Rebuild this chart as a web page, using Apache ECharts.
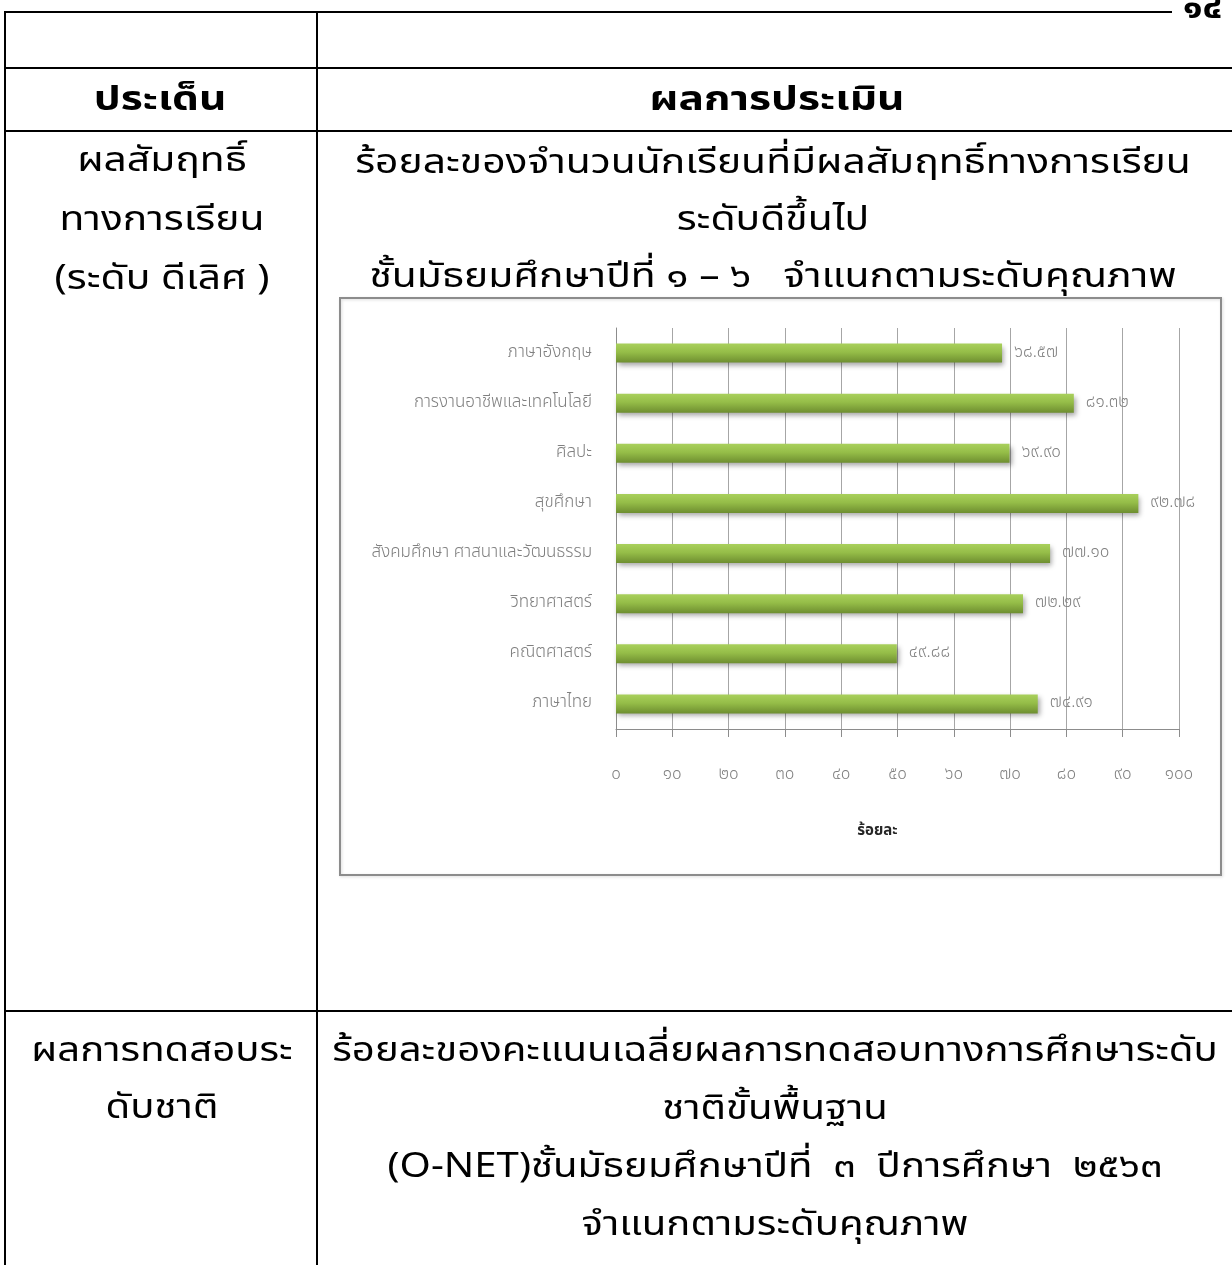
<!DOCTYPE html>
<html>
<head>
<meta charset="utf-8">
<script src="https://cdn.jsdelivr.net/npm/echarts@6/dist/echarts.min.js"></script>
<style>
html,body{margin:0;padding:0;background:#fff;}
#c{width:1232px;height:1265px;}
</style>
</head>
<body>
<div id="c"></div>
<script>
// ---- data ----
const categories = ['ภาษาอังกฤษ','การงานอาชีพและเทคโนโลยี','ศิลปะ','สุขศึกษา','สังคมศึกษา ศาสนาและวัฒนธรรม','วิทยาศาสตร์','คณิตศาสตร์','ภาษาไทย'];
const values = [68.57, 81.32, 69.90, 92.78, 77.10, 72.29, 49.88, 74.91];
const tickLabels = ['๐','๑๐','๒๐','๓๐','๔๐','๕๐','๖๐','๗๐','๘๐','๙๐','๑๐๐'];
const axisName = 'ร้อยละ';

const headLeft = 'ประเด็น';
const headRight = 'ผลการประเมิน';
const row1Left = ['ผลสัมฤทธิ์','ทางการเรียน','(ระดับ ดีเลิศ )'];
const row1Right = ['ร้อยละของจำนวนนักเรียนที่มีผลสัมฤทธิ์ทางการเรียน','ระดับดีขึ้นไป','ชั้นมัธยมศึกษาปีที่ ๑ – ๖   จำแนกตามระดับคุณภาพ'];
const row2Left = ['ผลการทดสอบระ','ดับชาติ'];
const row2Right = ['ร้อยละของคะแนนเฉลี่ยผลการทดสอบทางการศึกษาระดับ','ชาติขั้นพื้นฐาน','(O-NET)ชั้นมัธยมศึกษาปีที่  ๓  ปีการศึกษา  ๒๕๖๓','จำแนกตามระดับคุณภาพ'];
const pageNo = '๑๔';

const THAI_DIGITS = '๐๑๒๓๔๕๖๗๘๙';
function toThai(s){ return String(s).replace(/[0-9]/g, d => THAI_DIGITS[+d]); }

const FONT = '"Noto Sans Thai","Noto Sans Thai Looped","Tahoma","Loma","Garuda","Sarabun","Noto Sans",sans-serif';

const chart = echarts.init(document.getElementById('c'), null, {renderer:'canvas'});

function line(x1,y1,x2,y2,w,c){
  return {type:'line', shape:{x1,y1,x2,y2}, style:{stroke:c||'#000', lineWidth:w||2}, silent:true, z:10};
}
function text(t,x,y,size,weight,align,sx){
  return {type:'text', x, y, scaleX:sx||1, style:{text:t, fontSize:size, fontWeight:weight||'normal', fontFamily:FONT, fill:'#000', align:align||'center', verticalAlign:'middle'}, silent:true, z:10};
}

const graphics = [
  // table lines
  line(4,12,1172,12),
  line(5,12,5,1265),
  line(317,12,317,1265),
  line(4,68,1232,68),
  line(4,131,1232,131),
  line(4,1011,1232,1011),
  // chart box
  {type:'rect', shape:{x:340,y:298,width:881,height:577}, style:{fill:'none', stroke:'#8c8c8c', lineWidth:2, shadowColor:'rgba(0,0,0,0.15)', shadowBlur:3, shadowOffsetX:1, shadowOffsetY:1}, silent:true, z:1},
  text(pageNo,1183,12,32,'bold','left',1.15),
  text(headLeft,160,103,34,'bold','center',1.25),
  text(headRight,777,103,34,'bold','center',1.25),
];
row1Left.forEach((t,i)=>graphics.push(text(t,162,164+i*59,34,'normal','center',1.2)));
row1Right.forEach((t,i)=>graphics.push(text(t,773,166+i*57,34,'normal','center',1.2)));
row2Left.forEach((t,i)=>graphics.push(text(t,162,1054+i*57,34,'normal','center',1.18)));
row2Right.forEach((t,i)=>graphics.push(text(t,775,1054+i*58,34,'normal','center',1.18)));

chart.setOption({
  animation:false,
  backgroundColor:'#fff',
  grid:{left:616, top:328, width:563, height:401, containLabel:false},
  xAxis:{
    type:'value', min:0, max:100, interval:10,
    axisLine:{show:true, lineStyle:{color:'#8c8c8c', width:1}},
    axisTick:{show:true, length:8, lineStyle:{color:'#8c8c8c'}},
    splitLine:{show:true, lineStyle:{color:'#a6a6a6', width:1}},
    axisLabel:{margin:38, color:'#7f7f7f', fontSize:17, fontWeight:300, fontFamily:FONT,
      formatter:(v)=>tickLabels[Math.round(v/10)]},
    name:axisName, nameLocation:'middle', nameGap:95,
    nameTextStyle:{color:'#262626', fontSize:15, fontFamily:FONT, fontWeight:'bold', padding:[0,40,0,0]}
  },
  yAxis:{
    type:'category', data:categories, inverse:true,
    axisLine:{show:true, lineStyle:{color:'#8c8c8c', width:1}},
    axisTick:{show:false},
    axisLabel:{margin:24, color:'#7f7f7f', fontSize:17, fontWeight:300, fontFamily:FONT}
  },
  series:[{
    type:'bar', data:values, barWidth:19,
    itemStyle:{
      color:new echarts.graphic.LinearGradient(0,0,0,1,[
        {offset:0,color:'#a9d05c'},{offset:0.45,color:'#95bd48'},{offset:1,color:'#6e8e30'}
      ]),
      shadowColor:'rgba(0,0,0,0.35)', shadowBlur:5, shadowOffsetX:2, shadowOffsetY:3
    },
    label:{show:true, position:'right', distance:12, color:'#7f7f7f', fontSize:17, fontWeight:300, fontFamily:FONT,
      formatter:(p)=>toThai(p.value.toFixed(2))}
  }],
  graphic:graphics
});
</script>
</body>
</html>
